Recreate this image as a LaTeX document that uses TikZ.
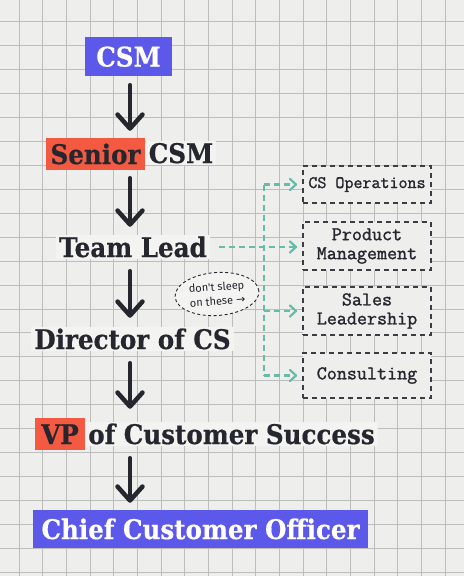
\documentclass[tikz,border=0pt]{standalone}
\usepackage{fontspec}
\usetikzlibrary{arrows.meta,shapes.geometric}
\newfontfamily\headfont[FakeStretch=0.91,FakeBold=0.6]{DejaVu Serif}
\newfontfamily\notefont{Fira Sans}
\newfontfamily\arrowfont{DejaVu Sans}
\newfontfamily\boxfont[FakeBold=1.4]{Latin Modern Mono}
\definecolor{bgc}{HTML}{EEEEEC}
\definecolor{haloc}{HTML}{F3F3F1}
\definecolor{gridc}{HTML}{BDBDBD}
\definecolor{ink}{HTML}{26262F}
\definecolor{cblue}{HTML}{5B58EA}
\definecolor{cred}{HTML}{F45A42}
\definecolor{tealc}{HTML}{66BCA8}
\tikzset{
  headtext/.style={font=\headfont\bfseries\fontsize{27}{29}\selectfont, text=ink,
    fill=haloc, inner xsep=3pt, inner ysep=2pt, text height=20pt, text depth=0pt},
  bluebox/.style={headtext, fill=cblue, text=white},
  redbox/.style={headtext, fill=cred},
  bigarrow/.style={draw=ink, line width=4.5pt, line cap=round,
    -{Straight Barb[length=14pt,width=25pt,round]}},
  dbox/.style={draw=ink!90, line width=1.8pt, dash pattern=on 5pt off 4pt,
    minimum width=128pt, fill=bgc, align=center, text=ink,
    font=\boxfont\fontsize{19.5}{19}\selectfont, inner sep=0pt},
  tealline/.style={draw=tealc, line width=2.2pt, dash pattern=on 6pt off 4pt},
  tealarrow/.style={tealline, -{Straight Barb[length=6pt,width=11pt,round]}},
  note/.style={ellipse, draw=ink, line width=0.9pt, dash pattern=on 3pt off 2.5pt,
    minimum width=84pt, minimum height=43pt, inner sep=0pt, align=center, text=ink,
    font=\notefont\fontsize{11}{14.5}\selectfont, fill=haloc}
}
\begin{document}
\begin{tikzpicture}[x=1pt,y=-1pt]
\fill[bgc] (0,0) rectangle (464,576);
\useasboundingbox (0,0) rectangle (464,576);
\foreach \i in {0,...,18} \draw[gridc, line width=0.8pt] ({19+23.67*\i},0) -- ({19+23.67*\i},576);
\foreach \j in {0,...,23} \draw[gridc, line width=0.8pt] (0,{21.5+23.95*\j}) -- (464,{21.5+23.95*\j});

% ladder
\node[bluebox, minimum width=87pt, minimum height=39pt, inner sep=0pt] (csm) at (128.5,56.5) {CSM};
\node[redbox, minimum width=99pt, minimum height=32pt, inner sep=0pt] (senior) at (95.5,154) {Senior};
\node[headtext, anchor=base] (seniorcsm) at (181,163) {CSM};
\node[headtext, anchor=base] (team) at (133,257) {Team Lead};
\node[headtext, anchor=base] (director) at (132.5,349) {Director of CS};
\node[redbox, minimum width=50pt, minimum height=32pt, inner sep=0pt] (vp) at (60,434) {VP};
\node[headtext, anchor=base] (vprest) at (231.5,444) {of Customer Success};
\node[bluebox, minimum width=335pt, minimum height=38pt, inner sep=0pt] (cco) at (200.5,529) {Chief Customer Officer};

\coordinate (axis) at (130,0);
\draw[bigarrow, shorten <=9pt, shorten >=7pt] (csm.south -| axis) -- (senior.north -| axis);
\draw[bigarrow, shorten <=8pt, shorten >=8pt] (senior.south -| axis) -- (team.north -| axis);
\draw[bigarrow, shorten <=12pt, shorten >=9pt] (team.south -| axis) -- (director.north -| axis);
\draw[bigarrow, shorten <=12pt, shorten >=9pt] (director.south -| axis) -- (vp.north -| axis);
\draw[bigarrow, shorten <=8pt, shorten >=7pt] (vp.south -| axis) -- (cco.north -| axis);

% side boxes
\node[dbox, minimum height=37pt, font=\boxfont\fontsize{17.5}{19}\selectfont] (ops) at (367,184.5) {CS Operations};
\node[dbox, minimum height=48pt] (pm) at (367,246) {Product\\Management};
\node[dbox, minimum height=48pt] (sales) at (367,311) {Sales\\Leadership};
\node[dbox, minimum height=45pt] (cons) at (367,375.5) {Consulting};

% teal connectors
\coordinate (trunk) at (264,0);
\draw[tealline] (ops.west -| trunk) -- (cons.west -| trunk);
\draw[tealarrow, shorten <=9pt, shorten >=5pt] (team.east) -- (team.east -| pm.west);
\draw[tealarrow, shorten >=5pt] (ops.west -| trunk) -- (ops.west);
\draw[tealarrow, shorten >=5pt] (sales.west -| trunk) -- (sales.west);
\draw[tealarrow, shorten >=5pt] (cons.west -| trunk) -- (cons.west);

% note
\node[note, rotate=4] (sleep) at (217,294) {don't sleep\\on these {\arrowfont→}};
\end{tikzpicture}
\end{document}
